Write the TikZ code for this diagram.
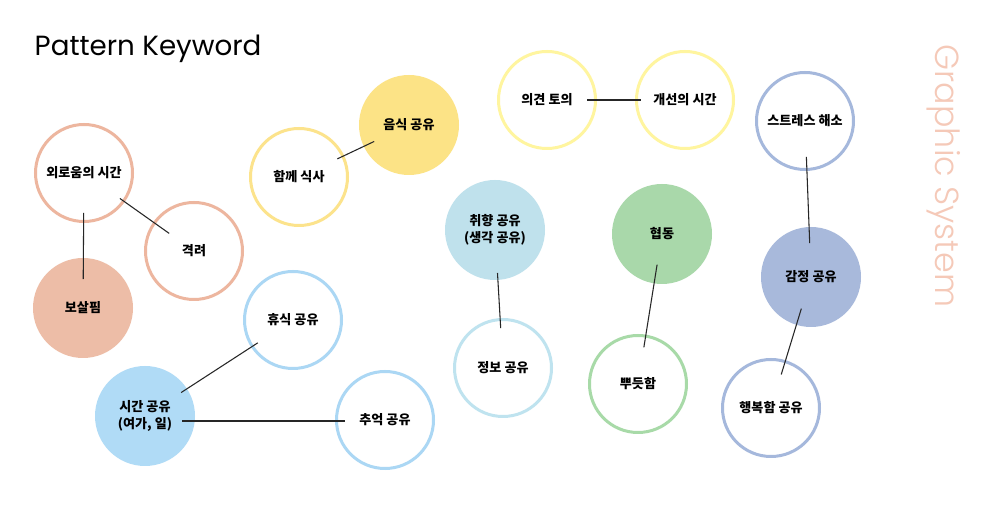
\documentclass[tikz,border=0pt]{standalone}
\usepackage{fontspec}
\usetikzlibrary{positioning}
\newfontfamily\kr{Noto Sans CJK KR}
\newfontfamily\titlefont{Poppins}
\newfontfamily\thinfont{Poppins Light}

\definecolor{salmonline}{HTML}{EDB69F}
\definecolor{salmonfill}{HTML}{EDBDA7}
\definecolor{mealline}{HTML}{FCE38C}
\definecolor{mealfill}{HTML}{FCE386}
\definecolor{lemonline}{HTML}{FFF59F}
\definecolor{skyline}{HTML}{ABD7F4}
\definecolor{skyfill}{HTML}{B0DBF6}
\definecolor{tasteline}{HTML}{BFE3EF}
\definecolor{tastefill}{HTML}{BFE1EC}
\definecolor{greenline}{HTML}{A8DAA8}
\definecolor{greenfill}{HTML}{A9D8AA}
\definecolor{moodline}{HTML}{A5B8DC}
\definecolor{moodfill}{HTML}{A8B9DB}
\definecolor{sidetext}{HTML}{F5C9B8}

\tikzset{
  ring/.style={circle, draw=#1, line width=2.25pt, minimum size=72.75pt, inner sep=0pt,
    align=center, font=\kr\bfseries\fontsize{9.8}{12.75}\selectfont},
  disc/.style={circle, fill=#1, minimum size=75pt, inner sep=0pt,
    align=center, font=\kr\bfseries\fontsize{9.8}{12.75}\selectfont},
  link/.style={draw=black!85, line width=0.8pt}
}

\begin{document}
\begin{tikzpicture}[x=0.75pt, y=-0.75pt]
\useasboundingbox[fill=white] (0,0) rectangle (1000,505);

\node[anchor=base west, font=\titlefont\fontsize{20.8}{25}\selectfont] (title) at (30,56) {Pattern Keyword};
\node[rotate=-90, text=sidetext, font=\thinfont\fontsize{25}{30}\selectfont] (side) at (944,176) {Graphic System};

% salmon group
\node[ring=salmonline] (lonely) at (84,173) {외로움의 시간};
\node[ring=salmonline] (cheer) at (194,251) {격려};
\node[disc=salmonfill] (care) at (83,308) {보살핌};

% meal group
\node[ring=mealline] (eat) at (299,177) {함께 식사};
\node[disc=mealfill] (food) at (409,125) {음식 공유};

% discussion
\node[ring=lemonline] (talk) at (547,100) {의견 토의};
\node[ring=lemonline] (better) at (685,100) {개선의 시간};

% time group
\node[ring=skyline] (rest) at (293,320) {휴식 공유};
\node[disc=skyfill] (time) at (145,416) {시간 공유\\(여가, 일)};
\node[ring=skyline] (memory) at (385,420) {추억 공유};

% taste group
\node[disc=tastefill] (taste) at (495,230) {취향 공유\\(생각 공유)};
\node[ring=tasteline] (info) at (503,368) {정보 공유};

% teamwork
\node[disc=greenfill] (team) at (662,234) {협동};
\node[ring=greenline] (proud) at (638,384) {뿌듯함};

% feelings
\node[ring=moodline] (stress) at (805,121) {스트레스 해소};
\node[disc=moodfill] (mood) at (811,277) {감정 공유};
\node[ring=moodline] (happy) at (771,408) {행복함 공유};

\draw[link, shorten <=33pt, shorten >=22.8pt] (lonely.center) -- (cheer.center);
\draw[link, shorten <=30pt, shorten >=21.7pt] (lonely.center) -- (care.center);
\draw[link, shorten <=31.8pt, shorten >=28.9pt] (eat.center) -- (food.center);
\draw[link, shorten <=30pt, shorten >=33pt] (talk.center) -- (better.center);
\draw[link, shorten <=31.5pt, shorten >=32.3pt] (rest.center) -- (time.center);
\draw[link, shorten <=27.8pt, shorten >=30pt] ([yshift=-3.75pt]time.center) -- ([yshift=-0.75pt]memory.center);
\draw[link, shorten <=32.3pt, shorten >=30pt] (taste.center) -- (info.center);
\draw[link, shorten <=23.3pt, shorten >=27.8pt] (team.center) -- (proud.center);
\draw[link, shorten <=27pt, shorten >=25.5pt] (stress.center) -- (mood.center);
\draw[link, shorten <=24.8pt, shorten >=26.3pt] (mood.center) -- (happy.center);
\end{tikzpicture}
\end{document}
